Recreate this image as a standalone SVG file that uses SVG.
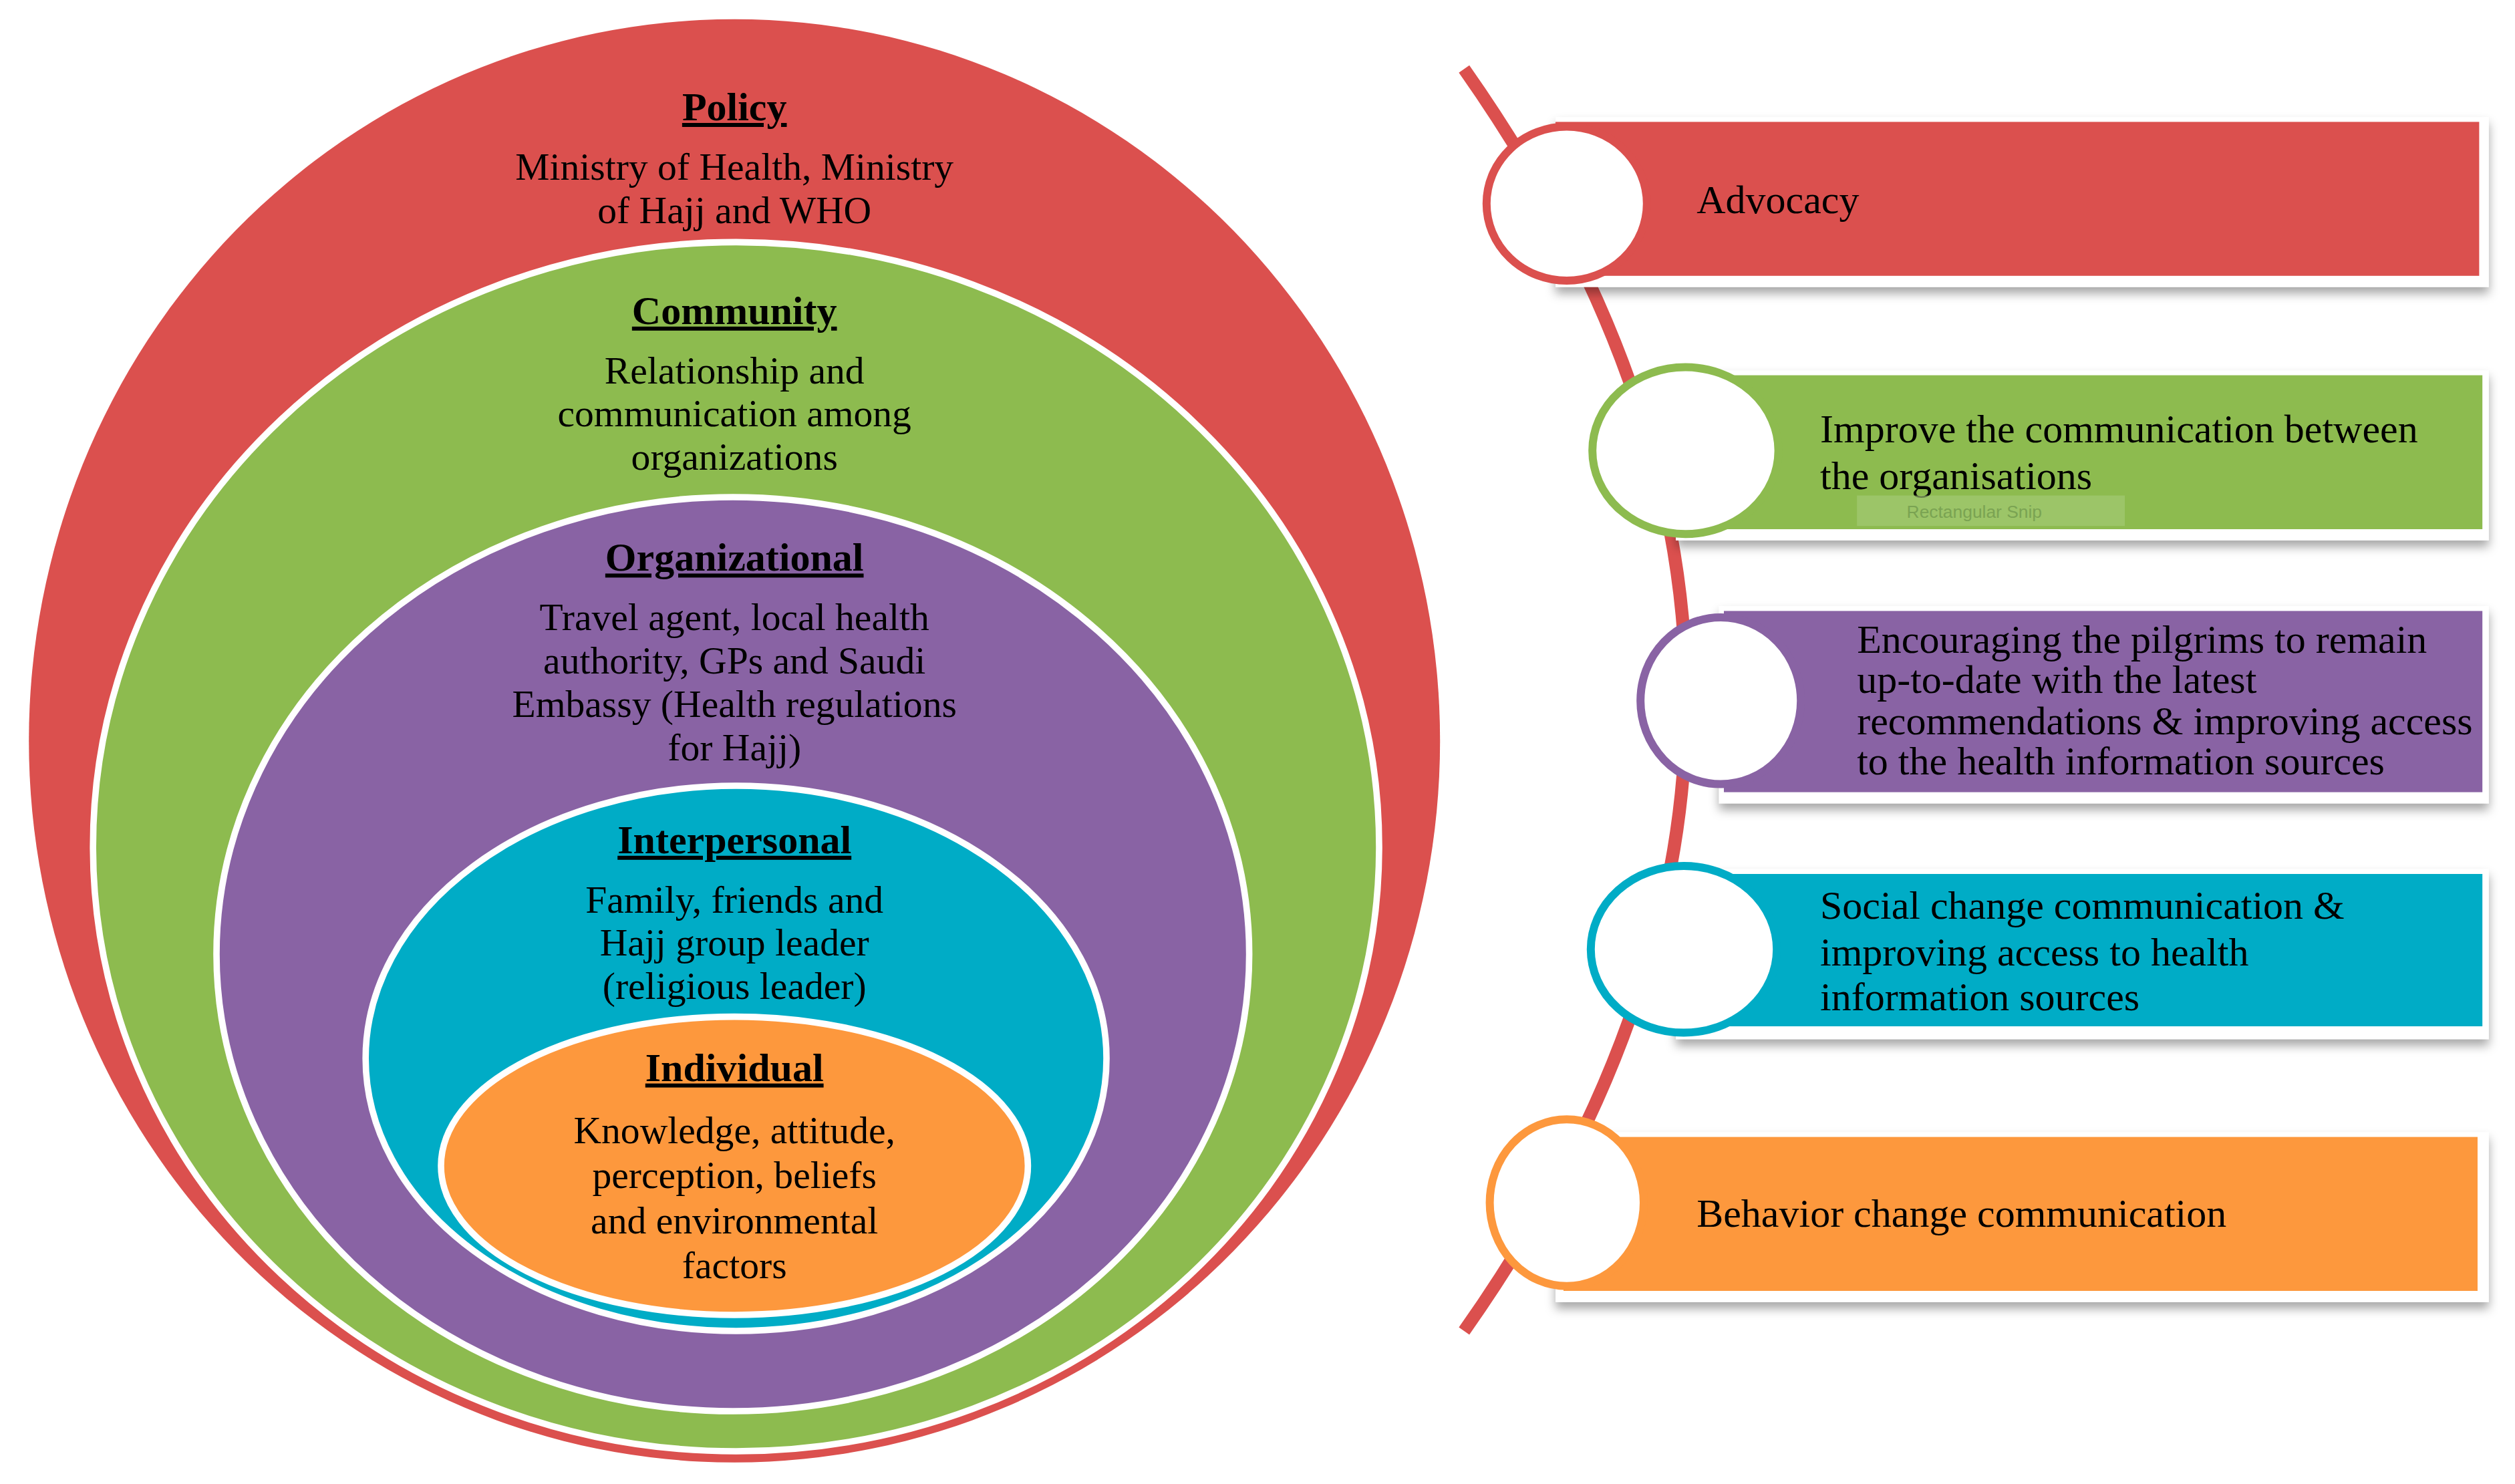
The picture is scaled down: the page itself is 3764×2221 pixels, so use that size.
<svg xmlns="http://www.w3.org/2000/svg" width="3764" height="2221" viewBox="0 0 3764 2221">
<style>
.t{font-family:"Liberation Serif",serif;font-size:24px;fill:#000;text-anchor:middle}
.h{font-family:"Liberation Serif",serif;font-size:25px;font-weight:bold;fill:#000;text-anchor:middle;text-decoration:underline}
.b{font-family:"Liberation Serif",serif;font-size:25px;fill:#000}
.c{fill:#fff;stroke-width:5}
.card{fill:#fff;filter:url(#sh)}
</style>
<defs>
<filter id="sh" x="-5%" y="-20%" width="110%" height="150%"><feDropShadow dx="0" dy="4" stdDeviation="3" flood-color="#000" flood-opacity="0.35"/></filter>
</defs>
<rect width="3764" height="2221" fill="#fff"/>
<g transform="scale(2.4)">
<g id="policy"><ellipse cx="458" cy="462" rx="440" ry="450" fill="#db504e"/>
<text class="h" x="458" y="75">Policy</text>
<text class="t" x="458" y="112">Ministry of Health, Ministry</text>
<text class="t" x="458" y="139">of Hajj and WHO</text></g>
<g id="community"><ellipse cx="459" cy="528" rx="401" ry="377" fill="#8dbb4f" stroke="#fff" stroke-width="4"/>
<text class="h" x="458" y="202">Community</text>
<text class="t" x="458" y="239">Relationship and</text>
<text class="t" x="458" y="266">communication among</text>
<text class="t" x="458" y="293">organizations</text></g>
<g id="organizational"><ellipse cx="457" cy="595" rx="322" ry="285" fill="#8963a4" stroke="#fff" stroke-width="4"/>
<text class="h" x="458" y="356">Organizational</text>
<text class="t" x="458" y="393">Travel agent, local health</text>
<text class="t" x="458" y="420">authority, GPs and Saudi</text>
<text class="t" x="458" y="447">Embassy (Health regulations</text>
<text class="t" x="458" y="474">for Hajj)</text></g>
<g id="interpersonal"><ellipse cx="459" cy="660" rx="231" ry="170" fill="#00acc6" stroke="#fff" stroke-width="4"/>
<text class="h" x="458" y="532">Interpersonal</text>
<text class="t" x="458" y="569">Family, friends and</text>
<text class="t" x="458" y="596">Hajj group leader</text>
<text class="t" x="458" y="623">(religious leader)</text></g>
<g id="individual"><ellipse cx="458" cy="727" rx="183" ry="93" fill="#fd983d" stroke="#fff" stroke-width="4"/>
<text class="h" x="458" y="674">Individual</text>
<text class="t" x="458" y="713">Knowledge, attitude,</text>
<text class="t" x="458" y="741">perception, beliefs</text>
<text class="t" x="458" y="769">and environmental</text>
<text class="t" x="458" y="797">factors</text></g>
<g id="connectors"><path d="M913,43 Q1190,437 913,830" fill="none" stroke="#db504e" stroke-width="8"/></g>
<g id="advocacy"><rect class="card" x="970" y="73" width="582" height="106"/><rect x="970" y="76" width="576" height="96" fill="#db504e"/>
<ellipse class="c" cx="977" cy="127" rx="50" ry="48" stroke="#db504e"/>
<text class="b" x="1058" y="133">Advocacy</text></g>
<g id="improve"><rect class="card" x="1045" y="231" width="507" height="106"/><rect x="1050" y="234" width="498" height="96" fill="#8dbb4f"/>
<ellipse class="c" cx="1051" cy="281" rx="58" ry="52" stroke="#8dbb4f"/>
<text class="b" x="1135" y="276">Improve the communication between</text>
<text class="b" x="1135" y="305">the organisations</text>
<rect x="1158" y="309" width="167" height="19" fill="#a6cc7a" opacity="0.6"/>
<text x="1189" y="323" font-family="Liberation Sans,sans-serif" font-size="11" fill="#7aa352">Rectangular Snip</text></g>
<g id="encouraging"><rect class="card" x="1072" y="378" width="480" height="123"/><rect x="1075" y="381" width="473" height="113" fill="#8963a4"/>
<ellipse class="c" cx="1073" cy="437" rx="50" ry="52" stroke="#8963a4"/>
<text class="b" x="1158" y="407" font-size="22">Encouraging the pilgrims to remain</text>
<text class="b" x="1158" y="432" font-size="22">up-to-date with the latest</text>
<text class="b" x="1158" y="458" font-size="22">recommendations &amp; improving access</text>
<text class="b" x="1158" y="483" font-size="22">to the health information sources</text></g>
<g id="social"><rect class="card" x="1045" y="542" width="507" height="106"/><rect x="1050" y="545" width="498" height="95" fill="#00acc6"/>
<ellipse class="c" cx="1050" cy="592" rx="58" ry="52" stroke="#00acc6"/>
<text class="b" x="1135" y="573">Social change communication &amp;</text>
<text class="b" x="1135" y="602">improving access to health</text>
<text class="b" x="1135" y="630">information sources</text></g>
<g id="behavior"><rect class="card" x="970" y="706" width="582" height="106"/><rect x="975" y="709" width="570" height="96" fill="#fd983d"/>
<ellipse class="c" cx="977" cy="750" rx="48" ry="52" stroke="#fd983d"/>
<text class="b" x="1058" y="765">Behavior change communication</text></g>
</g>
</svg>
